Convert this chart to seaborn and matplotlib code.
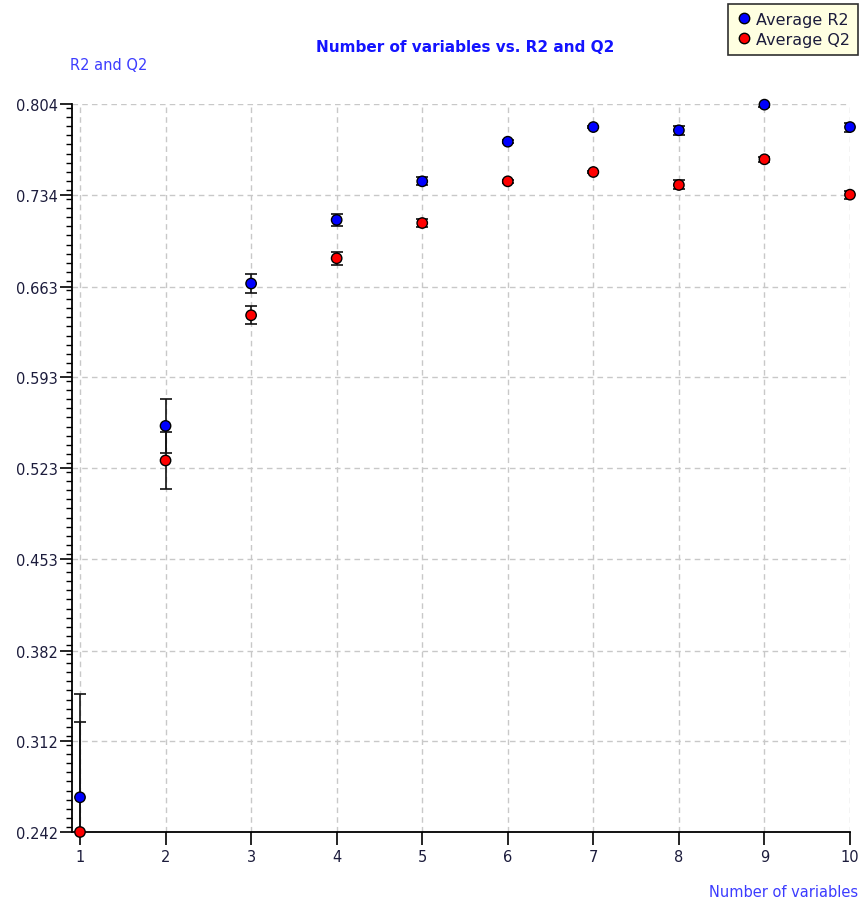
import matplotlib
matplotlib.use('Agg')
import matplotlib.pyplot as plt
from matplotlib.ticker import FixedLocator, MultipleLocator
from matplotlib.lines import Line2D
import seaborn as sns
import pandas as pd
import numpy as np

# --- data ---
n_vars = [1, 2, 3, 4, 5, 6, 7, 8, 9, 10]
r2_mean = [0.2688, 0.5555, 0.6654, 0.7145, 0.7443, 0.7749, 0.7862, 0.7837, 0.8035, 0.7862]
q2_mean = [0.2420, 0.5288, 0.6409, 0.6849, 0.7121, 0.7443, 0.7515, 0.7415, 0.7613, 0.7340]
r2_err = [0.0800, 0.0211, 0.0071, 0.0049, 0.0030, 0.0010, 0.0010, 0.0035, 0.0020, 0.0035]
q2_err = [0.0850, 0.0218, 0.0071, 0.0052, 0.0030, 0.0010, 0.0010, 0.0035, 0.0020, 0.0030]
y_ticks = [0.242, 0.312, 0.382, 0.453, 0.523, 0.593, 0.663, 0.734, 0.804]
y_tick_labels = ['0.242', '0.312', '0.382', '0.453', '0.523', '0.593', '0.663', '0.734', '0.804']
series_names = ['Average R2', 'Average Q2']
series_colors = ['#0000ff', '#ff0000']

df = pd.DataFrame({
    'n': n_vars * 2,
    'value': r2_mean + q2_mean,
    'err': r2_err + q2_err,
    'series': [series_names[0]] * len(n_vars) + [series_names[1]] * len(n_vars),
})

sns.set_style('white')
plt.rcParams['font.family'] = ['DejaVu Sans']

fig = plt.figure(figsize=(8.6, 9.03), dpi=100)
ax = fig.add_axes([72 / 860, 1 - 833 / 903, (850 - 72) / 860, (833 - 105) / 903])

# error bars first, markers on top
for name in series_names:
    sub = df[df['series'] == name]
    ax.errorbar(sub['n'], sub['value'], yerr=sub['err'], fmt='none',
                ecolor='#111111', elinewidth=1.2, capsize=4.5, capthick=1.2, zorder=3)

sns.scatterplot(data=df, x='n', y='value', hue='series', hue_order=series_names,
                palette=series_colors, s=56, edgecolor='black', linewidth=1.0,
                legend=False, ax=ax, zorder=4, clip_on=False)

ax.set_xlim(1 - 8 / 85.6, 10)
ax.set_ylim(0.242, 0.804)
ax.set_xticks(n_vars)
ax.set_xticklabels([str(n) for n in n_vars])
ax.yaxis.set_major_locator(FixedLocator(y_ticks))
ax.set_yticklabels(y_tick_labels)
ax.yaxis.set_minor_locator(MultipleLocator((0.804 - 0.242) / 80))
ax.set_xlabel('')
ax.set_ylabel('')

for s in ['top', 'right']:
    ax.spines[s].set_visible(False)
for s in ['left', 'bottom']:
    ax.spines[s].set_color('black')
    ax.spines[s].set_linewidth(1.3)

tick_color = '#1c1c3c'
ax.tick_params(axis='both', which='major', direction='out', length=9, width=1.2,
               color='black', labelcolor=tick_color, labelsize=10.5, left=True, bottom=True)
ax.tick_params(axis='y', which='minor', direction='out', length=4, width=1.0,
               color='black', left=True)
ax.tick_params(axis='y', pad=1)
ax.tick_params(axis='x', pad=3)

ax.grid(True, which='major', color='#c8c8c8', linestyle=(0, (4, 3)), linewidth=1.0)
ax.set_axisbelow(True)

# texts
fig.text(465 / 860, 1 - 48 / 903, 'Number of variables vs. R2 and Q2', ha='center', va='center',
         color='#1414ff', fontsize=11, fontweight='bold')
fig.text(70 / 860, 1 - 66 / 903, 'R2 and Q2', ha='left', va='center', color='#3c3cff', fontsize=10.5)
fig.text(858 / 860, 1 - 893 / 903, 'Number of variables', ha='right', va='center',
         color='#3c3cff', fontsize=10.5)

handles = [Line2D([], [], marker='o', linestyle='none', markerfacecolor=c, markeredgecolor='black',
                  markersize=7.5) for c in series_colors]
leg = ax.legend(handles, series_names, loc='upper right', bbox_to_anchor=(858 / 860, 1 - 5 / 903),
                bbox_transform=fig.transFigure, frameon=True, fancybox=False, framealpha=1,
                facecolor='#ffffe1', edgecolor='#303030', fontsize=11.5, handletextpad=0.25,
                handlelength=1.0, borderpad=0.5, labelspacing=0.3, borderaxespad=0)
leg.get_frame().set_linewidth(1.2)
for t in leg.get_texts():
    t.set_color(tick_color)

fig.savefig('out.png', dpi=100)
